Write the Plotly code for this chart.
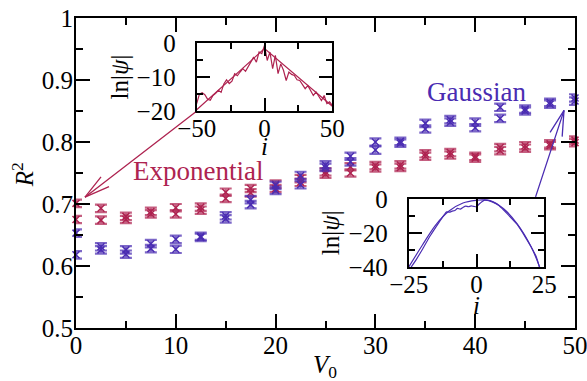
import math
import plotly.graph_objects as go

# ---------------- data ----------------
V0 = [0, 2.5, 5, 7.5, 10, 12.5, 15, 17.5, 20, 22.5, 25, 27.5, 30, 32.5, 35, 37.5, 40, 42.5, 45, 47.5, 50]

exp_a = [0.701, 0.693, 0.680, 0.688, 0.694, 0.695, 0.719, 0.725, 0.732, 0.741, 0.752, 0.760, 0.762,
         0.763, 0.781, 0.783, 0.777, 0.791, 0.794, 0.797, 0.803]
exp_b = [0.675, 0.674, 0.675, 0.684, 0.684, 0.690, 0.709, 0.718, 0.725, 0.735, 0.748, 0.750, 0.758,
         0.759, 0.777, 0.779, 0.774, 0.786, 0.790, 0.794, 0.799]
gau_a = [0.653, 0.631, 0.626, 0.636, 0.643, 0.648, 0.681, 0.707, 0.730, 0.746, 0.763, 0.777, 0.800,
         0.801, 0.830, 0.836, 0.832, 0.856, 0.853, 0.864, 0.871]
gau_b = [0.618, 0.626, 0.619, 0.628, 0.627, 0.646, 0.676, 0.699, 0.722, 0.731, 0.759, 0.768, 0.787,
         0.798, 0.821, 0.832, 0.823, 0.838, 0.850, 0.861, 0.866]
err_val = 0.006

# inset 1 (exponential)
exp_i = [-50, -48, -46, -44, -42, -40, -38, -36, -34, -32, -30, -28, -26, -24, -22, -20, -18, -16, -14, -12,
         -10, -8, -6, -4, -2, 0, 2, 4, 6, 8, 10, 12, 14, 16, 18, 20, 22, 24, 26, 28, 30, 32, 34, 36, 38, 40,
         42, 44, 46, 48, 50]
exp_psi = [-17.8, -15.0, -14.6, -15.2, -16.5, -16.8, -15.4, -14.8, -13.9, -14.5, -12.0, -10.8, -11.9, -11.2,
           -9.0, -9.6, -8.5, -7.5, -8.3, -7.0, -5.5, -4.1, -5.6, -2.6, -3.1, -0.7, -5.1, -2.6, -7.5, -3.6,
           -9.0, -6.1, -8.0, -11.0, -8.5, -9.2, -9.5, -10.8, -11.0, -12.2, -13.4, -12.5, -13.8, -15.4, -14.4,
           -15.6, -16.9, -15.4, -17.8, -17.3, -18.3]
exp_fit_i = [-50, 0, 50]
exp_fit_psi = [-19.6, -1.6, -18.6]

# inset 2 (gaussian)
gau_fit_i = [-25, -20, -15, -10, -5, 0, 2.5, 5, 10, 15, 20, 23.3]
gau_fit_psi = [-40, -27.2, -15.2, -7.0, -2.4, -0.8, -0.6, -1.0, -5.8, -14.6, -27.6, -40]
gau_i = [-24.1, -22, -19.8, -17, -13.7, -12, -11, -10, -9, -8, -7, -6, -5, -4, -3, -2, -1, 0, 1, 2, 3, 4,
         5, 6, 8, 10, 12, 15, 18, 20, 22, 23.2]
gau_psi = [-40, -35, -29.2, -21.5, -13.5, -9.5, -7.6, -7.8, -7.2, -6.8, -5.6, -6.0, -5.0, -4.2, -4.6, -4.1,
           -4.4, -4.6, -3.0, -1.6, -0.7, -0.9, -1.3, -1.9, -3.6, -6.5, -9.8, -15.0, -22.4, -27.8, -33.8, -40]

# ---------------- style ----------------
RED = '#AE2350'
BLUE = '#4A2CB2'
RED_T = 'rgba(174,35,80,0.72)'
BLUE_T = 'rgba(74,44,178,0.72)'
FONT = 'Liberation Serif'
W, H = 587, 381
ML, MR, MT, MB = 76, 12, 17.5, 53
XR = [0, 50]
YR = [0.5, 1.0]

fig = go.Figure()

for ys, c, ct in [(exp_a, RED, RED_T), (exp_b, RED, RED_T), (gau_a, BLUE, BLUE_T), (gau_b, BLUE, BLUE_T)]:
    fig.add_trace(go.Scatter(
        x=V0, y=ys, mode='markers', cliponaxis=False, showlegend=False,
        marker=dict(symbol='x-thin', size=7, color=c, line=dict(width=1.5, color=c)),
        error_y=dict(type='constant', value=err_val, color=ct, thickness=2.2, width=6),
        xaxis='x', yaxis='y'))

fig.add_trace(go.Scatter(x=exp_i, y=exp_psi, mode='lines', line=dict(color=RED, width=1.2),
                         showlegend=False, xaxis='x2', yaxis='y2'))
fig.add_trace(go.Scatter(x=exp_fit_i, y=exp_fit_psi, mode='lines', line=dict(color=RED, width=1.2),
                         showlegend=False, xaxis='x2', yaxis='y2'))
fig.add_trace(go.Scatter(x=gau_fit_i, y=gau_fit_psi, mode='lines', line=dict(color=BLUE, width=1.2, shape='spline'),
                         showlegend=False, xaxis='x3', yaxis='y3'))
fig.add_trace(go.Scatter(x=gau_i, y=gau_psi, mode='lines', line=dict(color=BLUE, width=1.2, shape='spline', smoothing=0.6),
                         showlegend=False, xaxis='x3', yaxis='y3'))

tickfont = dict(family=FONT, size=25, color='black')


def ax(**kw):
    d = dict(showline=True, linewidth=2, linecolor='black', mirror='ticks', ticks='inside',
             ticklen=14, tickwidth=1.5, tickcolor='black', showgrid=False, zeroline=False,
             tickfont=tickfont, fixedrange=True, ticklabeloverflow='allow')
    d.update(kw)
    return d


def mnr(dt, ln=7):
    return dict(dtick=dt, tick0=0, ticklen=ln, ticks='inside', tickwidth=1.5, tickcolor='black')


pw = W - ML - MR
ph = H - MT - MB


def dom_x(p0, p1):
    return [(p0 - ML) / pw, (p1 - ML) / pw]


def dom_y(p0, p1):  # p0 top pixel, p1 bottom pixel
    return [(H - MB - p1) / ph, (H - MB - p0) / ph]


fig.update_layout(
    width=W, height=H, margin=dict(l=ML, r=MR, t=MT, b=MB, autoexpand=False),
    paper_bgcolor='white', plot_bgcolor='white', showlegend=False,
    font=dict(family=FONT, size=25, color='black'),
    xaxis=ax(range=XR, domain=[0, 1], anchor='y', tickvals=[0, 10, 20, 30, 40, 50],
             minor=mnr(5), ticklabelstandoff=-6),
    yaxis=ax(range=YR, domain=[0, 1], anchor='x', tickvals=[0.5, 0.6, 0.7, 0.8, 0.9, 1.0],
             ticktext=['0.5', '0.6', '0.7', '0.8', '0.9', '1'], minor=mnr(0.05), ticklabelstandoff=-4),
    xaxis2=ax(range=[-50, 50], domain=dom_x(196.7, 332.3), anchor='y2', tickvals=[-50, 0, 50],
              minor=mnr(25, 6), ticklen=13, ticklabelstandoff=-6),
    yaxis2=ax(range=[-20, 0], domain=dom_y(42.7, 110.7), anchor='x2', tickvals=[-20, -10, 0],
              minor=mnr(5, 6), ticklen=13, ticklabelstandoff=14),
    xaxis3=ax(range=[-25, 25], domain=dom_x(408.7, 544.3), anchor='y3', tickvals=[-25, 0, 25],
              minor=mnr(12.5, 6), ticklen=13, ticklabelstandoff=-6),
    yaxis3=ax(range=[-40, 0], domain=dom_y(198.7, 267.0), anchor='x3', tickvals=[-40, -20, 0],
              minor=mnr(10, 6), ticklen=13, ticklabelstandoff=14),
)


def title_at(text, px, py, angle=0):
    fig.add_annotation(x=(px - ML) / pw, y=(H - MB - py) / ph, xref='paper', yref='paper',
                       text=text, showarrow=False, textangle=angle, xanchor='center', yanchor='middle',
                       font=dict(family=FONT, size=25, color='black'))


title_at('<i>V</i><sub>0</sub>', 325, 367)
title_at('<i>R</i><sup>2</sup>', 23, 175, -90)
title_at('ln|<i>ψ</i>|', 119, 77, -90)
title_at('<i>i</i>', 264, 146)
title_at('ln|<i>ψ</i>|', 330, 233, -90)
title_at('<i>i</i>', 476, 305)

# ---------------- arrows & labels ----------------
sx = pw / (XR[1] - XR[0])
sy = ph / (YR[1] - YR[0])
HEAD_L, HEAD_W = 27, 6.8


def arrow(tip, tail, color):
    dx = (tail[0] - tip[0]) * sx
    dy = -(tail[1] - tip[1]) * sy
    L = math.hypot(dx, dy)
    ux, uy = dx / L, dy / L
    px, py = -uy, ux
    fig.add_annotation(x=tip[0], y=tip[1], ax=tail[0], ay=tail[1], axref='x', ayref='y',
                       xref='x', yref='y', text='', showarrow=True, arrowhead=0,
                       arrowwidth=1.3, arrowcolor=color, standoff=0, startstandoff=0,
                       font=dict(size=1))
    for s in (1, -1):
        fig.add_annotation(x=tip[0], y=tip[1], ax=HEAD_L * ux + s * HEAD_W * px,
                           ay=HEAD_L * uy + s * HEAD_W * py, xref='x', yref='y',
                           text='', showarrow=True, arrowhead=0, arrowwidth=1.3,
                           arrowcolor=color, standoff=0, startstandoff=0, font=dict(size=1))


arrow((0.9, 0.711), (12.1, 0.850), RED)
arrow((48.9, 0.851), (46.0, 0.709), BLUE)

fig.add_annotation(x=12.2, y=0.754, xref='x', yref='y', text='Exponential', showarrow=False,
                   font=dict(family=FONT, size=27, color=RED))
fig.add_annotation(x=40.1, y=0.880, xref='x', yref='y', text='Gaussian', showarrow=False,
                   font=dict(family=FONT, size=27, color=BLUE))

fig.write_html('out.html')
